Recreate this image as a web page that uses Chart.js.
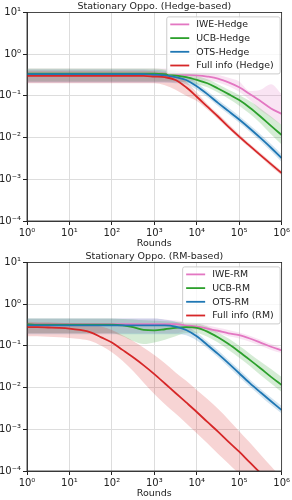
<!DOCTYPE html>
<html lang="en">
<head>
<meta charset="UTF-8">
<title>Stationary Oppo.</title>
<script src="https://cdn.jsdelivr.net/npm/chart.js"></script>
<style>
  body { margin: 0; background: #fff; }
  .box { width: 292px; height: 250px; }
</style>
</head>
<body>
<div class="box"><canvas id="hedge" width="292" height="250"></canvas></div>
<div class="box"><canvas id="rm" width="292" height="250"></canvas></div>
<script>
// x positions: quarter decades from 10^0 to 10^6
const ROUNDS = [1, 1.778, 3.162, 5.623, 10, 17.78, 31.62, 56.23, 100, 177.8, 316.2, 562.3,
  1000, 1778, 3162, 5623, 1e4, 17783, 31623, 56234, 1e5, 177828, 316228, 562341, 1e6];
const Y_TICKS = [1e-4, 1e-3, 1e-2, 1e-1, 1, 10];
const X_TICKS = [1, 10, 100, 1e3, 1e4, 1e5, 1e6];

// --- Hedge-based ---
const HEDGE_IWE    = [0.33,0.33,0.33,0.33,0.33,0.33,0.33,0.33,0.33,0.33,0.33,0.33,0.33,0.33,0.33,0.32,0.31,0.29,0.26,0.21,0.16,0.11,0.075,0.05,0.037];
const HEDGE_IWE_LO = [0.21,0.21,0.21,0.21,0.21,0.21,0.21,0.21,0.21,0.21,0.21,0.21,0.21,0.21,0.21,0.22,0.23,0.23,0.21,0.17,0.125,0.08,0.045,0.03,0.02];
const HEDGE_IWE_HI = [0.45,0.45,0.45,0.45,0.45,0.45,0.45,0.45,0.45,0.45,0.45,0.45,0.45,0.45,0.45,0.43,0.4,0.36,0.32,0.27,0.22,0.13,0.14,0.19,0.11];

const HEDGE_UCB    = [0.34,0.34,0.34,0.34,0.34,0.34,0.34,0.34,0.34,0.34,0.34,0.34,0.34,0.33,0.31,0.28,0.24,0.2,0.15,0.11,0.079,0.052,0.032,0.019,0.0115];
const HEDGE_UCB_LO = [0.22,0.22,0.22,0.22,0.22,0.22,0.22,0.22,0.22,0.22,0.22,0.22,0.22,0.22,0.22,0.21,0.19,0.16,0.12,0.085,0.058,0.037,0.022,0.012,0.0068];
const HEDGE_UCB_HI = [0.45,0.45,0.45,0.45,0.45,0.45,0.45,0.45,0.45,0.45,0.45,0.45,0.45,0.43,0.4,0.35,0.3,0.25,0.19,0.14,0.105,0.075,0.05,0.032,0.02];

const HEDGE_OTS    = [0.33,0.33,0.33,0.33,0.33,0.33,0.33,0.33,0.33,0.33,0.33,0.33,0.32,0.31,0.28,0.24,0.17,0.11,0.068,0.043,0.027,0.0165,0.0098,0.0057,0.0032];
const HEDGE_OTS_LO = [0.21,0.21,0.21,0.21,0.21,0.21,0.21,0.21,0.21,0.21,0.21,0.21,0.21,0.21,0.2,0.19,0.14,0.092,0.057,0.036,0.0225,0.0138,0.0082,0.0047,0.0026];
const HEDGE_OTS_HI = [0.43,0.43,0.43,0.43,0.43,0.43,0.43,0.43,0.43,0.43,0.43,0.43,0.42,0.4,0.36,0.3,0.21,0.13,0.082,0.052,0.033,0.02,0.012,0.007,0.004];

const HEDGE_FULL    = [0.3,0.3,0.3,0.3,0.3,0.3,0.3,0.3,0.3,0.3,0.3,0.3,0.29,0.28,0.24,0.16,0.095,0.055,0.032,0.018,0.0105,0.0063,0.0038,0.0023,0.0014];
const HEDGE_FULL_LO = [0.2,0.2,0.2,0.2,0.2,0.2,0.2,0.2,0.2,0.2,0.2,0.2,0.2,0.18,0.14,0.1,0.075,0.047,0.028,0.016,0.0093,0.0056,0.0034,0.002,0.00125];
const HEDGE_FULL_HI = [0.4,0.4,0.4,0.4,0.4,0.4,0.4,0.4,0.4,0.4,0.4,0.4,0.39,0.37,0.33,0.22,0.12,0.064,0.037,0.021,0.012,0.0071,0.0043,0.0026,0.0016];

// --- RM-based ---
const RM_IWE    = [0.33,0.33,0.33,0.33,0.33,0.33,0.33,0.33,0.33,0.33,0.33,0.33,0.33,0.33,0.33,0.31,0.29,0.26,0.23,0.2,0.18,0.15,0.12,0.095,0.078];
const RM_IWE_LO = [0.2,0.2,0.2,0.2,0.2,0.2,0.2,0.2,0.2,0.2,0.2,0.2,0.2,0.2,0.2,0.23,0.24,0.22,0.2,0.17,0.15,0.125,0.1,0.08,0.067];
const RM_IWE_HI = [0.45,0.45,0.45,0.45,0.45,0.45,0.45,0.45,0.45,0.45,0.45,0.45,0.45,0.43,0.41,0.38,0.35,0.31,0.27,0.24,0.21,0.175,0.14,0.11,0.09];

const RM_UCB    = [0.33,0.32,0.32,0.32,0.32,0.32,0.32,0.32,0.32,0.31,0.28,0.24,0.235,0.25,0.27,0.28,0.27,0.22,0.16,0.11,0.072,0.046,0.029,0.018,0.0115];
const RM_UCB_LO = [0.2,0.2,0.2,0.2,0.2,0.2,0.2,0.2,0.2,0.17,0.13,0.11,0.12,0.14,0.17,0.2,0.2,0.165,0.12,0.08,0.052,0.033,0.02,0.0125,0.0078];
const RM_UCB_HI = [0.45,0.45,0.45,0.45,0.45,0.45,0.45,0.45,0.45,0.44,0.43,0.41,0.4,0.39,0.38,0.37,0.35,0.29,0.21,0.15,0.1,0.065,0.042,0.028,0.018];

const RM_OTS    = [0.31,0.31,0.31,0.31,0.31,0.31,0.31,0.31,0.31,0.31,0.31,0.31,0.31,0.31,0.29,0.24,0.17,0.105,0.064,0.038,0.022,0.0128,0.0077,0.0047,0.0029];
const RM_OTS_LO = [0.19,0.19,0.19,0.19,0.19,0.19,0.19,0.19,0.19,0.19,0.19,0.19,0.19,0.19,0.19,0.18,0.135,0.087,0.053,0.031,0.018,0.0104,0.0063,0.0038,0.0024];
const RM_OTS_HI = [0.45,0.45,0.45,0.45,0.45,0.45,0.45,0.45,0.45,0.45,0.45,0.45,0.45,0.42,0.38,0.3,0.21,0.128,0.078,0.046,0.027,0.0157,0.0094,0.0058,0.0036];

const RM_FULL    = [0.28,0.28,0.275,0.27,0.26,0.24,0.21,0.16,0.12,0.08,0.053,0.034,0.021,0.0125,0.0074,0.0044,0.0026,0.0015,0.00088,0.0005,0.00029,0.00016,0.00009,0.00005,0.000027];
const RM_FULL_LO = [0.17,0.17,0.165,0.16,0.155,0.145,0.13,0.1,0.07,0.044,0.025,0.013,0.007,0.004,0.0024,0.0014,0.0008,0.00046,0.00026,0.00015,0.000085,0.000045,0.000024,0.000013,0.000007];
const RM_FULL_HI = [0.38,0.37,0.37,0.36,0.35,0.34,0.32,0.29,0.24,0.18,0.13,0.09,0.06,0.038,0.023,0.0145,0.0088,0.0053,0.0031,0.0017,0.0009,0.00048,0.00025,0.00013,0.00007];

const PINK = '#e377c2', GREEN = '#2ca02c', BLUE = '#1f77b4', RED = '#d62728';
const FONT = 'DejaVu Sans';

const SUP = {'-': '⁻', '0': '⁰', '1': '¹', '2': '²', '3': '³', '4': '⁴', '5': '⁵', '6': '⁶'};
function powLabel(v) {
  const e = Math.round(Math.log10(v));
  return '10' + String(e).split('').map(c => SUP[c]).join('');
}

function alpha(hex, a) {
  const n = parseInt(hex.slice(1), 16);
  return `rgba(${n >> 16},${(n >> 8) & 255},${n & 255},${a})`;
}

function pts(arr) {
  return arr.map((v, i) => ({ x: ROUNDS[i], y: v }));
}

// series: [label, colour, mean, lo, hi]
function buildDatasets(series) {
  const ds = [];
  series.forEach((s, i) => {
    const [label, color, mean, lo, hi] = s;
    ds.push({ label: '_lo', data: pts(lo), borderWidth: 0, pointRadius: 0, fill: false,
      cubicInterpolationMode: 'monotone', order: 20 - i });
    ds.push({ label: '_hi', data: pts(hi), borderWidth: 0, pointRadius: 0, fill: '-1',
      backgroundColor: alpha(color, 0.2), cubicInterpolationMode: 'monotone', order: 20 - i });
    ds.push({ label: label, data: pts(mean), borderColor: color, borderWidth: 1.8, pointRadius: 0,
      fill: false, cubicInterpolationMode: 'monotone', order: series.length - i });
  });
  return ds;
}

// matplotlib-like legend box inside the axes, top right
const boxLegend = {
  id: 'boxLegend',
  afterDatasetsDraw(chart) {
    const items = chart.data.datasets.filter(d => d.label[0] !== '_');
    const ctx = chart.ctx, area = chart.chartArea;
    ctx.save();
    ctx.font = '9.4px ' + FONT;
    const tw = Math.max(...items.map(d => ctx.measureText(d.label).width));
    const w = 4 + 19 + 7 + tw + 6, h = 57;
    const x0 = area.right - 2 - w, y0 = area.top + 4;
    ctx.fillStyle = 'rgba(255,255,255,0.8)';
    ctx.strokeStyle = '#cccccc';
    ctx.lineWidth = 1;
    ctx.beginPath();
    ctx.roundRect(x0 + 0.5, y0 + 0.5, w, h, 2);
    ctx.fill();
    ctx.stroke();
    items.forEach((d, i) => {
      const y = y0 + 8 + 13.7 * i;
      ctx.strokeStyle = d.borderColor;
      ctx.lineWidth = 1.8;
      ctx.beginPath();
      ctx.moveTo(x0 + 4, y);
      ctx.lineTo(x0 + 23, y);
      ctx.stroke();
      ctx.fillStyle = '#222';
      ctx.textBaseline = 'middle';
      ctx.fillText(d.label, x0 + 30, y + 0.5);
    });
    ctx.restore();
  }
};

// full frame around the axes
const frame = {
  id: 'frame',
  afterDraw(chart) {
    const a = chart.chartArea, ctx = chart.ctx;
    ctx.save();
    ctx.strokeStyle = '#222';
    ctx.lineWidth = 0.8;
    ctx.strokeRect(a.left, a.top, a.right - a.left, a.bottom - a.top);
    ctx.restore();
  }
};

function makeChart(id, title, series) {
  return new Chart(document.getElementById(id), {
    type: 'line',
    data: { datasets: buildDatasets(series) },
    plugins: [boxLegend, frame],
    options: {
      responsive: false,
      animation: false,
      devicePixelRatio: 1,
      layout: { padding: { right: 9, left: 0, top: 0, bottom: 0 } },
      plugins: {
        legend: { display: false },
        tooltip: { enabled: false },
        title: { display: true, text: title, color: '#222', fullSize: false,
          font: { family: FONT, size: 9.5, weight: 'normal' }, padding: { top: 1, bottom: 0 } }
      },
      scales: {
        x: {
          type: 'logarithmic', min: 1, max: 1e6,
          afterBuildTicks: s => { s.ticks = X_TICKS.map(v => ({ value: v, major: true })); },
          afterFit: s => { s.height = 29; },
          ticks: { callback: v => powLabel(v), color: '#222', padding: 2, maxRotation: 0,
            autoSkip: false, font: { family: FONT, size: 10 } },
          grid: { color: '#dddddd', tickColor: '#222', tickLength: 4 },
          border: { color: '#222', width: 0.8 },
          title: { display: true, text: 'Rounds', color: '#222', padding: { top: 0, bottom: 1 },
            font: { family: FONT, size: 9.5 } }
        },
        y: {
          type: 'logarithmic', min: 1e-4, max: 10,
          afterBuildTicks: s => { s.ticks = Y_TICKS.map(v => ({ value: v, major: true })); },
          afterFit: s => { s.width = 27; },
          ticks: { callback: v => powLabel(v), color: '#222', padding: 2,
            autoSkip: false, font: { family: FONT, size: 10 } },
          grid: { color: '#dddddd', tickColor: '#222', tickLength: 4 },
          border: { color: '#222', width: 0.8 }
        }
      }
    }
  });
}

makeChart('hedge', 'Stationary Oppo. (Hedge-based)', [
  ['IWE-Hedge', PINK, HEDGE_IWE, HEDGE_IWE_LO, HEDGE_IWE_HI],
  ['UCB-Hedge', GREEN, HEDGE_UCB, HEDGE_UCB_LO, HEDGE_UCB_HI],
  ['OTS-Hedge', BLUE, HEDGE_OTS, HEDGE_OTS_LO, HEDGE_OTS_HI],
  ['Full info (Hedge)', RED, HEDGE_FULL, HEDGE_FULL_LO, HEDGE_FULL_HI]
]);

makeChart('rm', 'Stationary Oppo. (RM-based)', [
  ['IWE-RM', PINK, RM_IWE, RM_IWE_LO, RM_IWE_HI],
  ['UCB-RM', GREEN, RM_UCB, RM_UCB_LO, RM_UCB_HI],
  ['OTS-RM', BLUE, RM_OTS, RM_OTS_LO, RM_OTS_HI],
  ['Full info (RM)', RED, RM_FULL, RM_FULL_LO, RM_FULL_HI]
]);
</script>
</body>
</html>
